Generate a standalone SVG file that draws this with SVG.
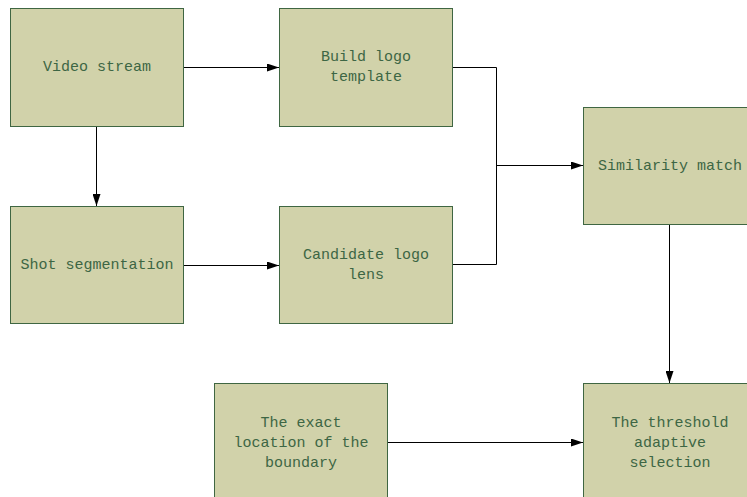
<svg xmlns="http://www.w3.org/2000/svg" width="747" height="497" viewBox="0 0 747 497">
<style>
.box{fill:#d1d2aa;stroke:#3f6642;stroke-width:1}
.t{font-family:"Liberation Mono","DejaVu Sans Mono",monospace;font-size:15px;fill:#3d6644;text-anchor:middle;dominant-baseline:central}
.c{fill:none;stroke:#000;stroke-width:1}
</style>
<defs>
<marker id="a" markerWidth="12" markerHeight="8" refX="12" refY="4" orient="auto" markerUnits="userSpaceOnUse">
<path d="M0,0 L12,4 L0,8 Z" fill="#000"/>
</marker>
</defs>
<rect width="747" height="497" fill="#fff"/>
<g id="connectors">
<path class="c" d="M183.5,67.5 H279" marker-end="url(#a)"/>
<path class="c" d="M96.5,126.5 V206" marker-end="url(#a)"/>
<path class="c" d="M183.5,265.5 H279" marker-end="url(#a)"/>
<path class="c" d="M452.5,67.5 H496.5 V264.5 H452.5"/>
<path class="c" d="M496.5,165.5 H583" marker-end="url(#a)"/>
<path class="c" d="M669.5,224.5 V383" marker-end="url(#a)"/>
<path class="c" d="M387.5,442.5 H583" marker-end="url(#a)"/>
</g>
<g id="video-stream">
<rect class="box" x="10.5" y="8.5" width="173" height="118"/>
<text class="t" x="97" y="67">Video stream</text>
</g>
<g id="build-logo-template">
<rect class="box" x="279.5" y="8.5" width="173" height="118"/>
<text class="t" x="366" y="57">Build logo</text>
<text class="t" x="366" y="77">template</text>
</g>
<g id="shot-segmentation">
<rect class="box" x="10.5" y="206.5" width="173" height="117"/>
<text class="t" x="97" y="265">Shot segmentation</text>
</g>
<g id="candidate-logo-lens">
<rect class="box" x="279.5" y="206.5" width="173" height="117"/>
<text class="t" x="366" y="255">Candidate logo</text>
<text class="t" x="366" y="275">lens</text>
</g>
<g id="similarity-match">
<rect class="box" x="583.5" y="107.5" width="173" height="117"/>
<text class="t" x="670" y="166">Similarity match</text>
</g>
<g id="exact-location">
<rect class="box" x="214.5" y="383.5" width="173" height="117"/>
<text class="t" x="301" y="423">The exact</text>
<text class="t" x="301" y="443">location of the</text>
<text class="t" x="301" y="463">boundary</text>
</g>
<g id="threshold-selection">
<rect class="box" x="583.5" y="383.5" width="173" height="117"/>
<text class="t" x="670" y="423">The threshold</text>
<text class="t" x="670" y="443">adaptive</text>
<text class="t" x="670" y="463">selection</text>
</g>
</svg>
